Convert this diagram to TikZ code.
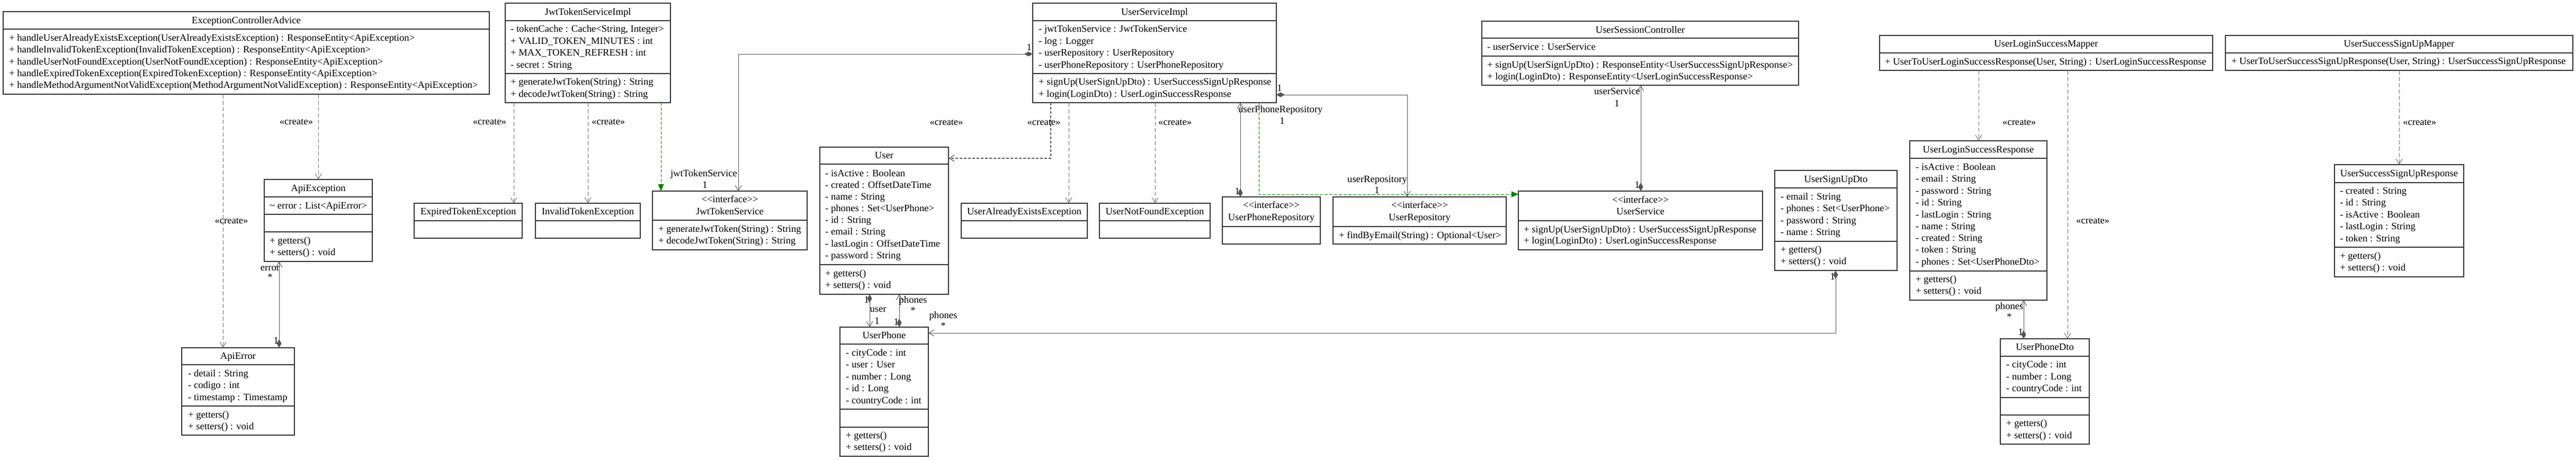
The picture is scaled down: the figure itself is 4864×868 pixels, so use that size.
\documentclass[tikz,border=0pt]{standalone}
\usepackage{fontspec}
\newfontfamily\umlf{Liberation Serif}
\usetikzlibrary{arrows.meta,calc}
\definecolor{bordc}{HTML}{333333}
\definecolor{linec}{HTML}{555555}
\definecolor{dashc}{HTML}{707070}
\definecolor{greenc}{HTML}{008000}
\newcommand{\clsfont}{\umlf\fontsize{18.6}{22}\selectfont}
\newcommand{\iface}{<\kern0pt<interface>\kern0pt>}
\newcounter{tn}
\newcommand{\clsbox}[5]{\node[clsbox, minimum width={#4-#2}, minimum height={#5-#3}, anchor=north west] (#1) at (#2,#3) {};}
\newcommand{\dv}[3]{\draw[dvl] (#1,#3) -- (#2,#3);}
\newcommand{\ttl}[3]{\stepcounter{tn}\node[txt] (t\arabic{tn}) at (#1,#2) {#3};}
\newcommand{\mem}[3]{\stepcounter{tn}\node[txt,anchor=west] (t\arabic{tn}) at (#1,#2) {#3};}
\newcommand{\lab}[4][center]{\stepcounter{tn}\node[txt,anchor=#1] (t\arabic{tn}) at (#2,#3) {#4};}
\begin{document}
\begin{tikzpicture}[x=1pt,y=-1pt,
  clsbox/.style={draw=bordc, line width=1.3pt, inner sep=0pt, outer sep=0pt, fill=white},
  dvl/.style={draw=bordc, line width=1.3pt},
  txt/.style={inner sep=0pt, font=\clsfont, text height=14pt, text depth=3pt, text=black},
  assoc/.style={draw=linec, line width=1pt},
  diabarb/.style={arrows={Diamond[length=16pt,width=9pt]-Straight Barb[length=10pt,width=12pt]}},
  createl/.style={draw=dashc, line width=1pt, dash pattern=on 8pt off 4pt, arrows={-Straight Barb[length=10pt,width=12pt]}},
  createdense/.style={draw=linec, line width=1.2pt, dash pattern=on 5pt off 3pt, arrows={-Straight Barb[length=10pt,width=12pt]}},
  realize/.style={draw=greenc, line width=1pt, dash pattern=on 6pt off 3pt, arrows={-Triangle[length=13pt,width=11pt]}}
]
\fill[white] (0,0) rectangle (4864,868);
\useasboundingbox (0,0) rectangle (4864,868);

% ExceptionControllerAdvice
\clsbox{eca}{6}{22}{924}{178}
\dv{6}{924}{55}
\ttl{465}{39}{ExceptionControllerAdvice}
\mem{17}{72}{+ handleUserAlreadyExistsException(UserAlreadyExistsException) : ResponseEntity<ApiException>}
\mem{17}{94}{+ handleInvalidTokenException(InvalidTokenException) : ResponseEntity<ApiException>}
\mem{17}{117}{+ handleUserNotFoundException(UserNotFoundException) : ResponseEntity<ApiException>}
\mem{17}{139}{+ handleExpiredTokenException(ExpiredTokenException) : ResponseEntity<ApiException>}
\mem{17}{161}{+ handleMethodArgumentNotValidException(MethodArgumentNotValidException) : ResponseEntity<ApiException>}

% ApiException
\clsbox{apiex}{499}{339}{703}{494}
\dv{499}{703}{372}\dv{499}{703}{405}\dv{499}{703}{438}
\ttl{601}{356}{ApiException}
\mem{509}{389}{\textasciitilde{} error : List<ApiError>}
\mem{509}{455}{+ getters()}
\mem{509}{477}{+ setters() : void}

% ApiError
\clsbox{apierr}{343}{657}{556}{822}
\dv{343}{556}{689}\dv{343}{556}{767}
\ttl{449.5}{673}{ApiError}
\mem{355}{706}{- detail : String}
\mem{355}{728}{- codigo : int}
\mem{355}{751}{- timestamp : Timestamp}
\mem{355}{784}{+ getters()}
\mem{355}{806}{+ setters() : void}

% JwtTokenServiceImpl
\clsbox{jwtimpl}{954}{6}{1266}{194}
\dv{954}{1266}{39}\dv{954}{1266}{139}
\ttl{1110}{23}{JwtTokenServiceImpl}
\mem{964}{55}{- tokenCache : Cache<String, Integer>}
\mem{964}{78}{+ VALID\_TOKEN\_MINUTES : int}
\mem{964}{100}{+ MAX\_TOKEN\_REFRESH : int}
\mem{964}{123}{- secret : String}
\mem{964}{155}{+ generateJwtToken(String) : String}
\mem{964}{178}{+ decodeJwtToken(String) : String}

% Exceptions
\clsbox{expired}{782}{384}{986}{450}
\dv{782}{986}{417}
\ttl{884}{400}{ExpiredTokenException}
\clsbox{invalid}{1011}{384}{1209}{450}
\dv{1011}{1209}{417}
\ttl{1110}{400}{InvalidTokenException}

% JwtTokenService
\clsbox{jwtsvc}{1232}{361}{1524}{472}
\dv{1232}{1524}{416}
\ttl{1378}{377}{\iface}
\ttl{1378}{400}{JwtTokenService}
\mem{1243}{433}{+ generateJwtToken(String) : String}
\mem{1243}{455}{+ decodeJwtToken(String) : String}

% UserServiceImpl
\clsbox{usimpl}{1950}{6}{2410}{194}
\dv{1950}{2410}{39}\dv{1950}{2410}{139}
\ttl{2180}{23}{UserServiceImpl}
\mem{1961}{55}{- jwtTokenService : JwtTokenService}
\mem{1961}{78}{- log : Logger}
\mem{1961}{100}{- userRepository : UserRepository}
\mem{1961}{123}{- userPhoneRepository : UserPhoneRepository}
\mem{1961}{155}{+ signUp(UserSignUpDto) : UserSuccessSignUpResponse}
\mem{1961}{178}{+ login(LoginDto) : UserLoginSuccessResponse}

% User
\clsbox{user}{1548}{278}{1791}{556}
\dv{1548}{1791}{310}\dv{1548}{1791}{500}
\ttl{1669.5}{294}{User}
\mem{1558}{328}{- isActive : Boolean}
\mem{1558}{350}{- created : OffsetDateTime}
\mem{1558}{372}{- name : String}
\mem{1558}{394}{- phones : Set<UserPhone>}
\mem{1558}{416}{- id : String}
\mem{1558}{438}{- email : String}
\mem{1558}{461}{- lastLogin : OffsetDateTime}
\mem{1558}{483}{- password : String}
\mem{1558}{517}{+ getters()}
\mem{1558}{539}{+ setters() : void}

% UserAlreadyExistsException / UserNotFoundException
\clsbox{uae}{1815}{384}{2053}{450}
\dv{1815}{2053}{417}
\ttl{1934}{400}{UserAlreadyExistsException}
\clsbox{unf}{2076}{384}{2285}{450}
\dv{2076}{2285}{417}
\ttl{2180.5}{400}{UserNotFoundException}

% UserPhoneRepository
\clsbox{uphrepo}{2308}{372}{2493}{461}
\dv{2308}{2493}{428}
\ttl{2400.5}{388}{\iface}
\ttl{2400.5}{411}{UserPhoneRepository}

% UserRepository
\clsbox{urepo}{2517}{372}{2844}{461}
\dv{2517}{2844}{428}
\ttl{2680.5}{388}{\iface}
\ttl{2680.5}{411}{UserRepository}
\mem{2528}{445}{+ findByEmail(String) : Optional<User>}

% UserSessionController
\clsbox{usc}{2798}{40}{3396}{161}
\dv{2798}{3396}{72}\dv{2798}{3396}{106}
\ttl{3097}{57}{UserSessionController}
\mem{2808}{89}{- userService : UserService}
\mem{2808}{123}{+ signUp(UserSignUpDto) : ResponseEntity<UserSuccessSignUpResponse>}
\mem{2808}{145}{+ login(LoginDto) : ResponseEntity<UserLoginSuccessResponse>}

% UserService
\clsbox{usvc}{2867}{361}{3328}{472}
\dv{2867}{3328}{417}
\ttl{3097.5}{378}{\iface}
\ttl{3097.5}{400}{UserService}
\mem{2877}{434}{+ signUp(UserSignUpDto) : UserSuccessSignUpResponse}
\mem{2877}{455}{+ login(LoginDto) : UserLoginSuccessResponse}

% UserSignUpDto
\clsbox{usdto}{3351}{322}{3582}{511}
\dv{3351}{3582}{355}\dv{3351}{3582}{456}
\ttl{3466.5}{339}{UserSignUpDto}
\mem{3362}{372}{- email : String}
\mem{3362}{394}{- phones : Set<UserPhone>}
\mem{3362}{417}{- password : String}
\mem{3362}{439}{- name : String}
\mem{3362}{472}{+ getters()}
\mem{3362}{494}{+ setters() : void}

% UserPhone
\clsbox{uphone}{1586}{618}{1753}{862}
\dv{1586}{1753}{650}\dv{1586}{1753}{773}\dv{1586}{1753}{807}
\ttl{1669.5}{634}{UserPhone}
\mem{1597}{667}{- cityCode : int}
\mem{1597}{689}{- user : User}
\mem{1597}{712}{- number : Long}
\mem{1597}{734}{- id : Long}
\mem{1597}{757}{- countryCode : int}
\mem{1597}{823}{+ getters()}
\mem{1597}{845}{+ setters() : void}

% UserLoginSuccessMapper
\clsbox{ulsm}{3549}{67}{4178}{133}
\dv{3549}{4178}{100}
\ttl{3863.5}{83}{UserLoginSuccessMapper}
\mem{3559}{117}{+ UserToUserLoginSuccessResponse(User, String) : UserLoginSuccessResponse}

% UserLoginSuccessResponse
\clsbox{ulsr}{3606}{266}{3865}{567}
\dv{3606}{3865}{299}\dv{3606}{3865}{512}
\ttl{3735.5}{283}{UserLoginSuccessResponse}
\mem{3617}{316}{- isActive : Boolean}
\mem{3617}{338}{- email : String}
\mem{3617}{361}{- password : String}
\mem{3617}{383}{- id : String}
\mem{3617}{406}{- lastLogin : String}
\mem{3617}{428}{- name : String}
\mem{3617}{450}{- created : String}
\mem{3617}{472}{- token : String}
\mem{3617}{495}{- phones : Set<UserPhoneDto>}
\mem{3617}{528}{+ getters()}
\mem{3617}{550}{+ setters() : void}

% UserPhoneDto
\clsbox{upd}{3777}{640}{3945}{839}
\dv{3777}{3945}{673}\dv{3777}{3945}{751}\dv{3777}{3945}{784}
\ttl{3861}{656}{UserPhoneDto}
\mem{3788}{689}{- cityCode : int}
\mem{3788}{712}{- number : Long}
\mem{3788}{734}{- countryCode : int}
\mem{3788}{800}{+ getters()}
\mem{3788}{823}{+ setters() : void}

% UserSuccessSignUpMapper
\clsbox{ussm}{4202}{67}{4858}{133}
\dv{4202}{4858}{100}
\ttl{4530}{83}{UserSuccessSignUpMapper}
\mem{4213}{116}{+ UserToUserSuccessSignUpResponse(User, String) : UserSuccessSignUpResponse}

% UserSuccessSignUpResponse
\clsbox{ussr}{4408}{311}{4652}{523}
\dv{4408}{4652}{345}\dv{4408}{4652}{467}
\ttl{4530}{328}{UserSuccessSignUpResponse}
\mem{4418}{361}{- created : String}
\mem{4418}{383}{- id : String}
\mem{4418}{406}{- isActive : Boolean}
\mem{4418}{428}{- lastLogin : String}
\mem{4418}{451}{- token : String}
\mem{4418}{484}{+ getters()}
\mem{4418}{506}{+ setters() : void}

% ---------------- connectors ----------------
\draw[createl] ($(eca.south west)+(415,0)$) -- ($(apierr.north west)+(78,0)$);
\lab{437}{417}{«create»}
\draw[createl] ($(eca.south west)+(595,0)$) -- ($(apiex.north west)+(102,0)$);
\lab[east]{591}{230}{«create»}
\draw[assoc,diabarb] ($(apierr.north west)+(184,0)$) -- ($(apiex.south west)+(28,0)$);
\lab{510}{506}{error}
\lab{510}{524}{*}
\lab[east]{526}{644}{1}

\draw[createl] ($(jwtimpl.south west)+(16,0)$) -- ($(expired.north west)+(188,0)$);
\lab[east]{956}{230}{«create»}
\draw[createl] ($(jwtimpl.south west)+(156,0)$) -- ($(invalid.north west)+(99,0)$);
\lab[west]{1117}{230}{«create»}
\draw[realize] ($(jwtimpl.south west)+(294,0)$) -- ($(jwtsvc.north west)+(16,0)$);
\draw[assoc,diabarb] ($(usimpl.north west)+(0,96)$) -| ($(jwtsvc.north west)+(162,0)$);
\lab[east]{1392}{328}{jwtTokenService}
\lab{1331}{350}{1}
\lab[east]{1948}{90}{1}

\draw[createdense] ($(usimpl.south west)+(34,0)$) |- ($(user.north east)+(0,21)$);
\lab{1787}{231}{«create»}
\lab{1971}{231}{«create»}
\draw[createl] ($(usimpl.south west)+(68,0)$) -- ($(uae.north west)+(203,0)$);
\draw[createl] ($(usimpl.south west)+(231,0)$) -- ($(unf.north west)+(105,0)$);
\lab[west]{2187}{231}{«create»}
\draw[assoc,diabarb] ($(uphrepo.north west)+(34,0)$) -- ($(usimpl.south west)+(392,0)$);
\lab[west]{2338}{207}{userPhoneRepository}
\lab{2421}{229}{1}
\lab[east]{2341}{362}{1}
\draw[assoc,diabarb] ($(usimpl.north east)+(0,173)$) -| ($(urepo.north west)+(140,0)$);
\lab[east]{2657}{339}{userRepository}
\lab{2600}{360}{1}
\lab{2416}{167}{1}
\draw[realize] ($(usimpl.south west)+(427,0)$) |- ($(usvc.north west)+(0,6)$);
\draw[assoc,diabarb] ($(usvc.north west)+(231,0)$) -- ($(usc.south west)+(300,0)$);
\lab[east]{3097}{173}{userService}
\lab{3053}{196}{1}
\lab[east]{3096}{350}{1}

\draw[assoc,diabarb] ($(usdto.south west)+(115,0)$) |- ($(uphone.north east)+(0,11)$);
\lab{1781}{596}{phones}
\lab{1781}{616}{*}
\lab[east]{3465}{523}{1}
\draw[assoc,diabarb] ($(user.south west)+(94,0)$) -- ($(uphone.north west)+(56,0)$);
\lab{1658}{584}{user}
\lab{1656}{607}{1}
\lab[east]{1641}{567}{1}
\draw[assoc,diabarb] ($(uphone.north west)+(112,0)$) -- ($(user.south west)+(150,0)$);
\lab{1724}{567}{phones}
\lab{1724}{587}{*}
\lab[east]{1697}{609}{1}

\draw[createl] ($(ulsm.south west)+(187,0)$) -- ($(ulsr.north west)+(130,0)$);
\lab[west]{3781}{231}{«create»}
\draw[createl] ($(ulsm.south west)+(355,0)$) -- ($(upd.north west)+(127,0)$);
\lab[west]{3920}{417}{«create»}
\draw[assoc,diabarb] ($(upd.north west)+(44,0)$) -- ($(ulsr.south west)+(215,0)$);
\lab{3794}{579}{phones}
\lab{3794}{599}{*}
\lab[east]{3820}{628}{1}
\draw[createl] ($(ussm.south west)+(328,0)$) -- ($(ussr.north west)+(122,0)$);
\lab[west]{4537}{231}{«create»}
\end{tikzpicture}
\end{document}
